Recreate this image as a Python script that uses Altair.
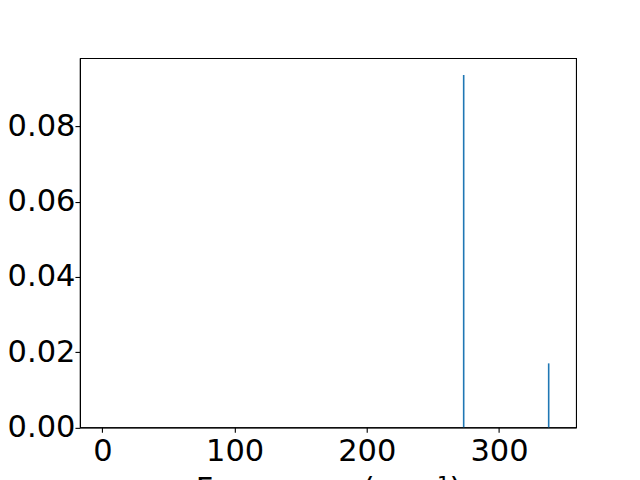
import altair as alt
import pandas as pd

frequency = [273.3, 337.6]
intensity = [0.0936, 0.0170]

df = pd.DataFrame({"freq": frequency, "inten": intensity, "zero": [0.0, 0.0]})

FONT = "DejaVu Sans"

chart = alt.Chart(df).mark_rule(color="#1f77b4", strokeWidth=1.6).encode(
    x=alt.X("freq:Q",
            scale=alt.Scale(domain=[-17.0, 358.3], nice=False, zero=False),
            axis=alt.Axis(title="Frequency (cm⁻¹)", values=[0, 100, 200, 300],
                          format="d", grid=False, tickSize=5, labelPadding=4,
                          titlePadding=8, titleFontWeight="normal")),
    y=alt.Y("zero:Q",
            scale=alt.Scale(domain=[0, 0.0981], nice=False),
            axis=alt.Axis(title=None, values=[0, 0.02, 0.04, 0.06, 0.08],
                          format=".2f", grid=False, tickSize=5, labelPadding=0)),
    y2="inten:Q",
).properties(
    width=496.5, height=369.5,
    background="white",
    autosize=alt.AutoSizeParams(type="none"),
    padding={"left": 72, "top": 50, "right": 56, "bottom": 56},
).configure_axis(
    labelFont=FONT, titleFont=FONT, labelFontSize=30.5, titleFontSize=30.5,
    labelColor="black", titleColor="black", tickColor="black",
    domainColor="black", domainWidth=1.1, tickWidth=1.1,
    labelFlush=False, labelOverlap=False,
).configure_view(
    stroke="black", strokeWidth=1.1,
)

chart.save("out.html", embed_options={"renderer": "svg", "actions": False})
